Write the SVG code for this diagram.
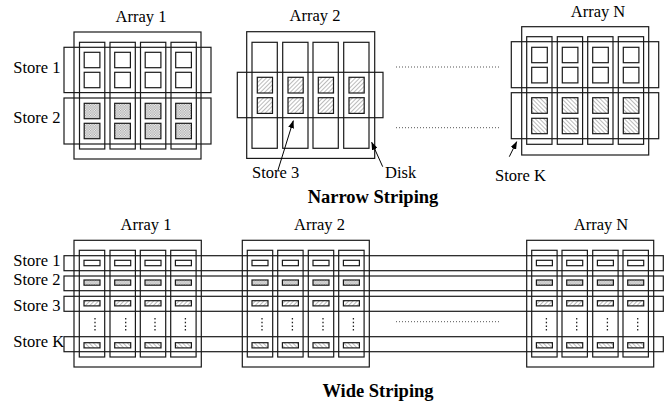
<svg xmlns="http://www.w3.org/2000/svg" width="667" height="406" viewBox="0 0 667 406">
<style>
  .b{fill:none;stroke:#1a1a1a;stroke-width:1.2}
  .sq{stroke:#1a1a1a;stroke-width:1.2}
  .t{font-family:"Liberation Serif","Times New Roman",serif;font-size:16.5px;fill:#000}
  .h{font-family:"Liberation Serif","Times New Roman",serif;font-size:18.5px;font-weight:bold;fill:#000}
  .dot{stroke:#555;stroke-width:1;stroke-dasharray:1,2;fill:none}
  .vd{stroke:#222;stroke-width:1.3;stroke-dasharray:1.5,2.2;fill:none}
  .ar{stroke:#000;stroke-width:1;fill:none;marker-end:url(#ah)}
</style>
<defs>
  <pattern id="chk" width="2.5" height="2.5" patternUnits="userSpaceOnUse">
    <rect width="2.5" height="2.5" fill="#f2f2f2"/>
    <rect width="1.25" height="1.25" fill="#a8a8a8"/>
    <rect x="1.25" y="1.25" width="1.25" height="1.25" fill="#a8a8a8"/>
  </pattern>
  <pattern id="fw" width="3" height="3" patternUnits="userSpaceOnUse" patternTransform="rotate(45)">
    <rect width="3" height="3" fill="#fff"/>
    <line x1="0" y1="0" x2="0" y2="3" stroke="#777" stroke-width="1"/>
  </pattern>
  <pattern id="bw" width="3" height="3" patternUnits="userSpaceOnUse" patternTransform="rotate(-45)">
    <rect width="3" height="3" fill="#fff"/>
    <line x1="0" y1="0" x2="0" y2="3" stroke="#777" stroke-width="1"/>
  </pattern>
  <marker id="ah" markerWidth="8" markerHeight="6" refX="7.5" refY="3" orient="auto" markerUnits="userSpaceOnUse">
    <path d="M0,0 L8,3 L0,6 Z" fill="#000"/>
  </marker>
</defs>

<!-- ===== Narrow striping ===== -->
<g id="n-array1">
  <text class="t" x="141" y="21.7" text-anchor="middle">Array 1</text>
  <rect class="b" x="74" y="32" width="127" height="127"/>
  <rect class="b" x="79.5" y="42.3" width="25.3" height="106.7"/>
  <rect class="b" x="110" y="42.3" width="25.3" height="106.7"/>
  <rect class="b" x="140.5" y="42.3" width="25.3" height="106.7"/>
  <rect class="b" x="171" y="42.3" width="25.3" height="106.7"/>
  <g fill="#fff" class="sq">
    <rect x="84.2" y="52.3" width="15.7" height="15.4"/>
    <rect x="114.7" y="52.3" width="15.7" height="15.4"/>
    <rect x="145.2" y="52.3" width="15.7" height="15.4"/>
    <rect x="175.7" y="52.3" width="15.7" height="15.4"/>
    <rect x="84.2" y="72.3" width="15.7" height="15.4"/>
    <rect x="114.7" y="72.3" width="15.7" height="15.4"/>
    <rect x="145.2" y="72.3" width="15.7" height="15.4"/>
    <rect x="175.7" y="72.3" width="15.7" height="15.4"/>
  </g>
  <g fill="url(#chk)" class="sq">
    <rect x="84.2" y="103.3" width="15.7" height="15.4"/>
    <rect x="114.7" y="103.3" width="15.7" height="15.4"/>
    <rect x="145.2" y="103.3" width="15.7" height="15.4"/>
    <rect x="175.7" y="103.3" width="15.7" height="15.4"/>
    <rect x="84.2" y="123.3" width="15.7" height="15.4"/>
    <rect x="114.7" y="123.3" width="15.7" height="15.4"/>
    <rect x="145.2" y="123.3" width="15.7" height="15.4"/>
    <rect x="175.7" y="123.3" width="15.7" height="15.4"/>
  </g>
</g>
<g id="n-store1">
  <text class="t" x="13.3" y="72.7">Store 1</text>
  <rect class="b" x="64" y="47.3" width="147" height="45.3"/>
</g>
<g id="n-store2">
  <text class="t" x="13.3" y="123.3">Store 2</text>
  <rect class="b" x="64" y="98" width="147" height="46"/>
</g>

<g id="n-array2">
  <text class="t" x="315" y="20.7" text-anchor="middle">Array 2</text>
  <rect class="b" x="246.7" y="31.7" width="128" height="126.7"/>
  <rect class="b" x="252" y="42.3" width="25.3" height="106"/>
  <rect class="b" x="282.7" y="42.3" width="25.3" height="106"/>
  <rect class="b" x="313" y="42.3" width="25.3" height="106"/>
  <rect class="b" x="343.7" y="42.3" width="25.3" height="106"/>
  <g fill="url(#fw)" class="sq">
    <rect x="257.3" y="77.3" width="15.2" height="15.7"/>
    <rect x="288" y="77.3" width="15.2" height="15.7"/>
    <rect x="318.3" y="77.3" width="15.2" height="15.7"/>
    <rect x="349" y="77.3" width="15.2" height="15.7"/>
    <rect x="257.3" y="97.7" width="15.2" height="15.7"/>
    <rect x="288" y="97.7" width="15.2" height="15.7"/>
    <rect x="318.3" y="97.7" width="15.2" height="15.7"/>
    <rect x="349" y="97.7" width="15.2" height="15.7"/>
  </g>
</g>
<g id="n-store3">
  <rect class="b" x="237.3" y="72.3" width="145.7" height="45.4"/>
  <text class="t" x="252" y="178.3">Store 3</text>
</g>
<g id="n-disk">
  <text class="t" x="385" y="178">Disk</text>
</g>

<g id="n-arrayN">
  <text class="t" x="598" y="16.7" text-anchor="middle">Array N</text>
  <rect class="b" x="521.7" y="26.7" width="127" height="128.3"/>
  <rect class="b" x="526.7" y="36.7" width="25.3" height="107.6"/>
  <rect class="b" x="557.3" y="36.7" width="25.3" height="107.6"/>
  <rect class="b" x="587.7" y="36.7" width="25.3" height="107.6"/>
  <rect class="b" x="618.3" y="36.7" width="25.3" height="107.6"/>
  <g fill="#fff" class="sq">
    <rect x="531.7" y="47.3" width="15.6" height="15.4"/>
    <rect x="562.3" y="47.3" width="15.6" height="15.4"/>
    <rect x="592.7" y="47.3" width="15.6" height="15.4"/>
    <rect x="623.3" y="47.3" width="15.6" height="15.4"/>
    <rect x="531.7" y="67.3" width="15.6" height="15.6"/>
    <rect x="562.3" y="67.3" width="15.6" height="15.6"/>
    <rect x="592.7" y="67.3" width="15.6" height="15.6"/>
    <rect x="623.3" y="67.3" width="15.6" height="15.6"/>
  </g>
  <g fill="url(#bw)" class="sq">
    <rect x="531.7" y="97.7" width="15.6" height="15.6"/>
    <rect x="562.3" y="97.7" width="15.6" height="15.6"/>
    <rect x="592.7" y="97.7" width="15.6" height="15.6"/>
    <rect x="623.3" y="97.7" width="15.6" height="15.6"/>
    <rect x="531.7" y="118.3" width="15.6" height="15.4"/>
    <rect x="562.3" y="118.3" width="15.6" height="15.4"/>
    <rect x="592.7" y="118.3" width="15.6" height="15.4"/>
    <rect x="623.3" y="118.3" width="15.6" height="15.4"/>
  </g>
  <rect class="b" x="511.3" y="41.7" width="147.4" height="46"/>
  <rect class="b" x="511.3" y="92.7" width="147.4" height="46"/>
</g>
<g id="n-storeK">
  <text class="t" x="495" y="181">Store K</text>
</g>

<g id="connectors">
  <line class="dot" x1="396" y1="67" x2="499" y2="67"/>
  <line class="dot" x1="396" y1="127.7" x2="499" y2="127.7"/>
  <line class="ar" x1="278" y1="170" x2="293.3" y2="120.7"/>
  <line class="ar" x1="382.7" y1="166.7" x2="371.7" y2="142.3"/>
  <line class="ar" x1="509.3" y1="156.7" x2="516.7" y2="141.7"/>
  <line class="dot" x1="396" y1="321.7" x2="499" y2="321.7"/>
</g>

<text class="h" x="373" y="203" text-anchor="middle">Narrow Striping</text>

<!-- ===== Wide striping ===== -->
<g id="w-array1">
  <text class="t" x="146" y="230" text-anchor="middle">Array 1</text>
  <rect class="b" x="74" y="240.3" width="127.3" height="126.7"/>
  <rect class="b" x="79.3" y="250.3" width="25.4" height="106.7"/>
  <rect class="b" x="110" y="250.3" width="25.4" height="106.7"/>
  <rect class="b" x="140.3" y="250.3" width="25.4" height="106.7"/>
  <rect class="b" x="170.7" y="250.3" width="25.4" height="106.7"/>
</g>
<g id="w-array2">
  <text class="t" x="319.5" y="230" text-anchor="middle">Array 2</text>
  <rect class="b" x="242.3" y="240.3" width="127" height="126.7"/>
  <rect class="b" x="247.3" y="250.3" width="25.4" height="106.7"/>
  <rect class="b" x="277.7" y="250.3" width="25.4" height="106.7"/>
  <rect class="b" x="308.3" y="250.3" width="25.4" height="106.7"/>
  <rect class="b" x="338.7" y="250.3" width="25.4" height="106.7"/>
</g>
<g id="w-arrayN">
  <text class="t" x="601" y="230" text-anchor="middle">Array N</text>
  <rect class="b" x="526.7" y="240.3" width="127" height="126.7"/>
  <rect class="b" x="531.7" y="250.3" width="25.4" height="106.7"/>
  <rect class="b" x="562" y="250.3" width="25.4" height="106.7"/>
  <rect class="b" x="592.7" y="250.3" width="25.4" height="106.7"/>
  <rect class="b" x="623" y="250.3" width="25.4" height="106.7"/>
</g>

<g id="w-blocks">
  <g fill="#fff" class="sq">
    <rect x="84" y="260.3" width="16" height="5.4"/><rect x="114.7" y="260.3" width="16" height="5.4"/><rect x="145" y="260.3" width="16" height="5.4"/><rect x="175.4" y="260.3" width="16" height="5.4"/>
    <rect x="252" y="260.3" width="16" height="5.4"/><rect x="282.4" y="260.3" width="16" height="5.4"/><rect x="313" y="260.3" width="16" height="5.4"/><rect x="343.4" y="260.3" width="16" height="5.4"/>
    <rect x="536.4" y="260.3" width="16" height="5.4"/><rect x="566.7" y="260.3" width="16" height="5.4"/><rect x="597.4" y="260.3" width="16" height="5.4"/><rect x="627.7" y="260.3" width="16" height="5.4"/>
  </g>
  <g fill="url(#chk)" class="sq">
    <rect x="84" y="280" width="16" height="5.2"/><rect x="114.7" y="280" width="16" height="5.2"/><rect x="145" y="280" width="16" height="5.2"/><rect x="175.4" y="280" width="16" height="5.2"/>
    <rect x="252" y="280" width="16" height="5.2"/><rect x="282.4" y="280" width="16" height="5.2"/><rect x="313" y="280" width="16" height="5.2"/><rect x="343.4" y="280" width="16" height="5.2"/>
    <rect x="536.4" y="280" width="16" height="5.2"/><rect x="566.7" y="280" width="16" height="5.2"/><rect x="597.4" y="280" width="16" height="5.2"/><rect x="627.7" y="280" width="16" height="5.2"/>
  </g>
  <g fill="url(#fw)" class="sq">
    <rect x="84" y="300.7" width="16" height="5.2"/><rect x="114.7" y="300.7" width="16" height="5.2"/><rect x="145" y="300.7" width="16" height="5.2"/><rect x="175.4" y="300.7" width="16" height="5.2"/>
    <rect x="252" y="300.7" width="16" height="5.2"/><rect x="282.4" y="300.7" width="16" height="5.2"/><rect x="313" y="300.7" width="16" height="5.2"/><rect x="343.4" y="300.7" width="16" height="5.2"/>
    <rect x="536.4" y="300.7" width="16" height="5.2"/><rect x="566.7" y="300.7" width="16" height="5.2"/><rect x="597.4" y="300.7" width="16" height="5.2"/><rect x="627.7" y="300.7" width="16" height="5.2"/>
  </g>
  <g fill="url(#bw)" class="sq">
    <rect x="84" y="342.7" width="16" height="5.2"/><rect x="114.7" y="342.7" width="16" height="5.2"/><rect x="145" y="342.7" width="16" height="5.2"/><rect x="175.4" y="342.7" width="16" height="5.2"/>
    <rect x="252" y="342.7" width="16" height="5.2"/><rect x="282.4" y="342.7" width="16" height="5.2"/><rect x="313" y="342.7" width="16" height="5.2"/><rect x="343.4" y="342.7" width="16" height="5.2"/>
    <rect x="536.4" y="342.7" width="16" height="5.2"/><rect x="566.7" y="342.7" width="16" height="5.2"/><rect x="597.4" y="342.7" width="16" height="5.2"/><rect x="627.7" y="342.7" width="16" height="5.2"/>
  </g>
  <g class="vd">
    <line x1="95" y1="318" x2="95" y2="332"/><line x1="125.7" y1="318" x2="125.7" y2="332"/><line x1="155" y1="318" x2="155" y2="332"/><line x1="185.4" y1="318" x2="185.4" y2="332"/>
    <line x1="262" y1="318" x2="262" y2="332"/><line x1="292.4" y1="318" x2="292.4" y2="332"/><line x1="323" y1="318" x2="323" y2="332"/><line x1="353.4" y1="318" x2="353.4" y2="332"/>
    <line x1="546.4" y1="318" x2="546.4" y2="332"/><line x1="576.7" y1="318" x2="576.7" y2="332"/><line x1="607.4" y1="318" x2="607.4" y2="332"/><line x1="637.7" y1="318" x2="637.7" y2="332"/>
  </g>
</g>

<g id="w-store1">
  <text class="t" x="13.3" y="265.7">Store 1</text>
  <rect class="b" x="64" y="255.7" width="599.3" height="15"/>
</g>
<g id="w-store2">
  <text class="t" x="13.3" y="285">Store 2</text>
  <rect class="b" x="64" y="276" width="599.3" height="14.7"/>
</g>
<g id="w-store3">
  <text class="t" x="13.3" y="310.7">Store 3</text>
  <rect class="b" x="64" y="296.3" width="599.3" height="15"/>
</g>
<g id="w-storeK">
  <text class="t" x="13.3" y="346.7">Store K</text>
  <rect class="b" x="64" y="336.7" width="599.3" height="15"/>
</g>

<text class="h" x="378" y="396.7" text-anchor="middle">Wide Striping</text>
</svg>
